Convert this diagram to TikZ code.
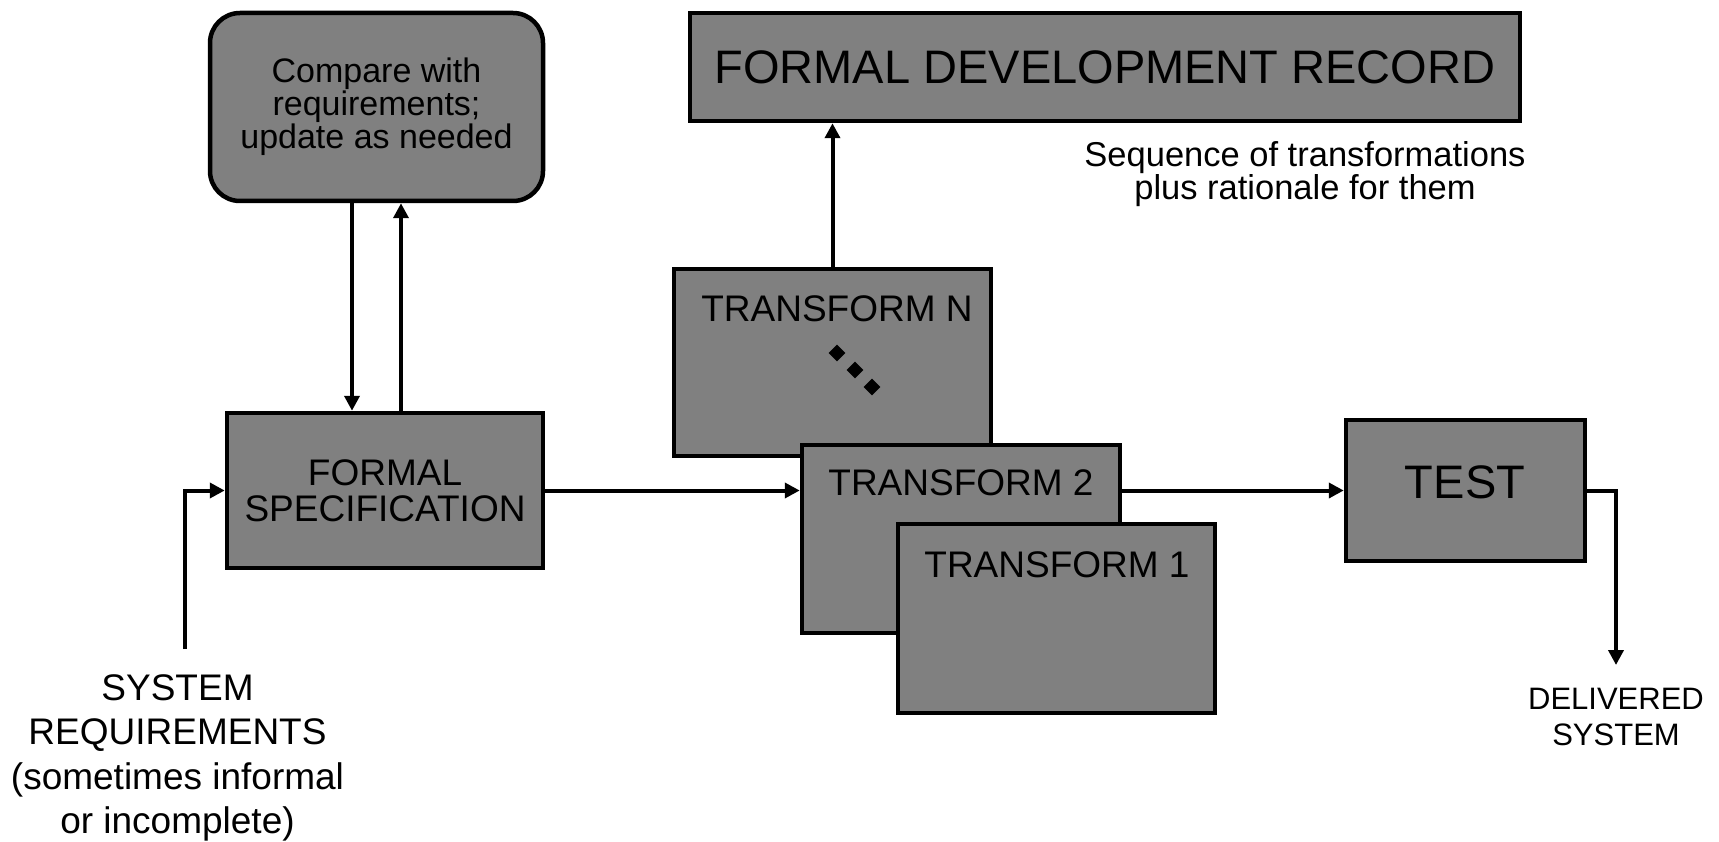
\documentclass[tikz,border=0pt]{standalone}
\usepackage{fontspec}
\setmainfont{Liberation Sans}
\usetikzlibrary{arrows.meta,shapes.geometric}
\definecolor{boxgray}{RGB}{128,128,128}
\begin{document}
\begin{tikzpicture}[x=1pt,y=-1pt,
  box/.style={draw=black, line width=4.5pt, fill=boxgray, inner sep=0pt},
  link/.style={draw=black, line width=4pt, -{Triangle[length=15pt,width=15pt]}},
  dot/.style={diamond, fill=black, minimum size=17pt, inner sep=0pt},
  lbl/.style={inner sep=0pt, align=center},
  f37/.style={font=\fontsize{37}{36}\selectfont},
  f47/.style={font=\fontsize{47}{50}\selectfont}]
\useasboundingbox (0,0) rectangle (1719,842);

% review loop
\node[box, rounded corners=30pt, minimum width=333pt, minimum height=188pt,
      lbl, font=\fontsize{34}{33}\selectfont] (cmp) at (376.5,107)
      {Compare with\\requirements;\\update as needed};
\node[box, minimum width=316pt, minimum height=155pt, lbl, f37] (fs) at (385,490.5)
      {FORMAL\\SPECIFICATION};

% record of the development
\node[box, minimum width=830pt, minimum height=108pt, f47] (fdr) at (1105,67)
      {FORMAL DEVELOPMENT RECORD};
\node[lbl, font=\fontsize{34.5}{33}\selectfont] (seq) at (1305,174)
      {Sequence of transformations\\plus rationale for them};

% stack of transformations
\node[box, minimum width=317pt, minimum height=187pt] (tN) at (832.5,362.5) {};
\node[lbl, f37] (tNlab) at (837,309) {TRANSFORM N};
\node[dot] (d1) at (837,353) {};
\node[dot] (d2) at (855,370) {};
\node[dot] (d3) at (872,387) {};

\node[box, minimum width=318pt, minimum height=188pt] (t2) at (961,539) {};
\node[lbl, f37] (t2lab) at (961,483) {TRANSFORM 2};

\node[box, minimum width=317pt, minimum height=189pt] (t1) at (1056.5,618.5) {};
\node[lbl, f37] (t1lab) at (1057,565) {TRANSFORM 1};

% test
\node[box, minimum width=239pt, minimum height=141pt] (test) at (1465.5,490.5) {};
\node[lbl, f47] (testlab) at (1465,482) {TEST};

% free texts
\node[lbl, font=\fontsize{37}{44.5}\selectfont] (sysreq) at (177.5,758)
      {SYSTEM\\REQUIREMENTS\\(sometimes informal\\or incomplete)};
\node[lbl, font=\fontsize{31}{36}\selectfont] (deliv) at (1616,716.5)
      {DELIVERED\\SYSTEM};

\coordinate (inp) at (185,649);
\coordinate (out) at (1616,665);

% connectors
\draw[link] (inp) |- (fs.west);
\draw[link] ([xshift=-24.5pt]cmp.south) -- ([xshift=-24.5pt]cmp.south |- fs.north);
\draw[link] ([xshift=24.5pt]cmp.south |- fs.north) -- ([xshift=24.5pt]cmp.south);
\draw[link] (fs.east) -- (t2.west |- fs.east);
\draw[link] (t2.east |- test.west) -- (test.west);
\draw[link] (tN.north) -- (tN.north |- fdr.south);
\draw[link] (test.east) -| (out);
\end{tikzpicture}
\end{document}
